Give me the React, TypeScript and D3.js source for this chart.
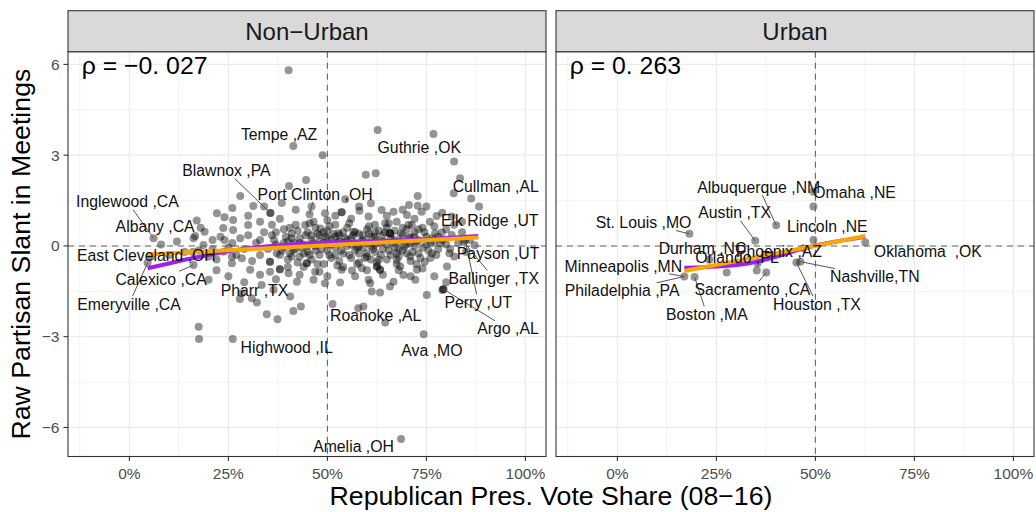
import React, { useEffect, useRef } from "react";
import * as d3 from "d3";

const panelNames = ["Non−Urban", "Urban"];
const rhoLabels = ["ρ = −0. 027", "ρ = 0. 263"];
const xTicks = [0, 0.25, 0.5, 0.75, 1];
const xTickLabels = ["0%", "25%", "50%", "75%", "100%"];
const xMinor = [-0.125, 0.125, 0.375, 0.625, 0.875];
const yTicks = [-6, -3, 0, 3, 6];
const yTickLabels = ["−6", "−3", "0", "3", "6"];
const yMinor = [-4.5, -1.5, 1.5, 4.5];
const xTitle = "Republican Pres. Vote Share (08−16)";
const yTitle = "Raw Partisan Slant in Meetings";

const nonUrbanPoints: [number, number][] = [
  [0.402,5.81],[0.414,3.30],[0.446,2.18],[0.403,1.98],[0.28,1.65],[0.313,1.32],[0.356,1.09],[0.356,1.09],
  [0.385,1.42],[0.221,1.08],[0.17,0.84],[0.262,0.86],[0.30,0.69],[0.33,0.80],[0.19,0.47],[0.237,0.59],
  [0.166,0.33],[0.061,0.25],
  [0.627,3.83],[0.768,3.70],[0.488,3.0],[0.82,2.79],[0.597,2.35],[0.622,2.40],[0.835,2.24],[0.819,1.74],
  [0.863,1.57],[0.883,1.30],[0.728,1.65],[0.61,1.41],[0.545,1.54],[0.706,1.35],[0.728,1.33],[0.536,1.11],
  [0.536,1.11],[0.455,1.05],[0.581,1.16],[0.637,1.19],[0.667,1.13],[0.701,1.02],[0.738,1.13],[0.759,0.80],
  [0.776,0.99],[0.814,0.97],[0.84,0.80],[0.465,0.80],[0.494,1.08],[0.604,0.97],[0.646,0.75],[0.675,0.80],
  [0.713,0.69],[0.658,0.42],[0.658,0.42],[0.789,0.44],[0.814,0.36],[0.566,0.47],[0.528,0.42],[0.482,0.58],
  [0.444,0.69],
  [0.175,-2.67],[0.176,-3.08],[0.261,-3.08],[0.347,-2.26],[0.374,-2.42],[0.414,-2.15],[0.433,-2.0],
  [0.279,-1.75],[0.309,-1.73],[0.322,-1.87],[0.284,-1.56],[0.305,-0.79],[0.334,-1.29],[0.355,-0.85],
  [0.38,-0.77],[0.38,-0.77],[0.402,-0.90],[0.423,-1.18],[0.364,-1.45],[0.406,-1.67],[0.20,-1.12],
  [0.162,-0.63],[0.259,-0.57],[0.284,-0.41],[0.162,0.25],[0.187,0.03],[0.238,-0.19],[0.259,-0.35],
  [0.33,0.2],[0.355,-0.52],[0.355,-0.52],[0.372,-0.24],[0.414,-0.13],[0.448,-0.57],[0.448,-0.57],[0.262,0.53],
  [0.686,-6.38],[0.743,-2.92],[0.751,-1.62],[0.793,-1.43],[0.793,-1.43],[0.79,-1.46],[0.646,-2.53],
  [0.591,-2.0],[0.578,-2.06],[0.513,-1.92],[0.802,-0.68],[0.808,-0.24],[0.764,-0.24],[0.722,-1.12],
  [0.726,-0.79],[0.608,-1.23],[0.612,-1.51],[0.633,-1.54],[0.667,-1.18],[0.692,-0.96],[0.658,-1.34],
  [0.633,-0.79],[0.633,-0.79],[0.587,-0.74],[0.562,-0.81],[0.536,-0.79],[0.469,-0.85],[0.494,-1.23],
  [0.465,-1.12],[0.532,-1.21],[0.684,-0.68],[0.675,-0.46],[0.709,-0.35],[0.746,-0.52],[0.772,0.42],
  [0.844,0.14],[0.848,0.2],[0.872,0.02],[0.785,0.09],[0.599,-0.24],[0.625,-0.68],[0.625,-0.68],[0.604,-1.12],
  [0.046,-0.56],[0.055,-0.35],[0.08,0.05],[0.1,-0.3],[0.12,0.15],[0.14,-0.2],[0.175,-0.15],[0.2,-0.35],
  [0.21,0.2],[0.23,0.3],
  [0.36,0.35],[0.37,0.05],[0.38,-0.3],[0.39,0.55],[0.40,0.15],[0.40,-0.45],[0.41,0.4],[0.42,-0.1],
  [0.42,0.7],[0.43,0.25],[0.43,-0.35],[0.44,0.05],[0.44,-0.7],[0.45,0.45],[0.45,-0.2],[0.46,0.2],
  [0.46,-0.45],[0.47,0.6],[0.47,0.0],[0.48,-0.3],[0.48,0.35],[0.49,0.1],[0.49,-0.6],[0.50,0.5],
  [0.50,-0.15],[0.50,0.25],[0.51,0.05],[0.51,-0.4],[0.52,0.7],[0.52,0.3],[0.52,-0.05],[0.53,-0.5],
  [0.53,0.15],[0.54,0.45],[0.54,-0.25],[0.55,0.0],[0.55,0.6],[0.56,-0.4],[0.56,0.25],[0.57,0.1],
  [0.57,-0.15],[0.58,0.4],[0.58,-0.55],[0.59,0.2],[0.59,-0.05],[0.60,0.55],[0.60,-0.35],[0.61,0.3],
  [0.61,0.0],[0.62,-0.2],[0.62,0.45],[0.63,0.1],[0.63,-0.45],[0.64,0.35],[0.64,-0.1],[0.65,0.6],
  [0.65,0.05],[0.66,-0.3],[0.66,0.25],[0.67,-0.05],[0.67,0.5],[0.68,0.15],[0.68,-0.35],[0.69,0.35],
  [0.69,-0.15],[0.70,0.55],[0.70,0.05],[0.71,-0.5],[0.71,0.25],[0.72,0.0],[0.72,0.45],[0.73,-0.25],
  [0.73,0.2],[0.74,0.6],[0.74,-0.05],[0.75,0.3],[0.76,-0.4],[0.76,0.1],[0.77,0.65],[0.78,-0.1],
  [0.78,0.3],[0.80,0.55],[0.80,0.05],[0.82,0.7],[0.82,-0.35],[0.84,0.45],[0.86,0.2],[0.35,-0.1],
  [0.34,0.45],[0.33,-0.3],[0.32,0.1],[0.31,-0.5],[0.30,0.35],[0.29,-0.1],[0.28,0.25],[0.27,-0.3],
  [0.26,0.1],[0.25,-0.05],[0.24,0.2],[0.22,-0.45],[0.21,-0.1],
  [0.38,0.9],[0.42,1.2],[0.46,1.3],[0.50,0.85],[0.52,1.0],[0.56,0.9],[0.58,1.3],[0.62,0.7],
  [0.65,1.0],[0.69,1.2],[0.72,0.9],[0.75,1.3],[0.79,1.1],[0.40,-0.7],[0.43,-0.95],[0.48,-0.85],
  [0.50,-1.0],[0.54,-0.7],[0.57,-1.0],[0.60,-0.8],[0.64,-0.95],[0.68,-0.8],[0.71,-1.0],[0.74,-0.75],
  [0.77,-1.0],[0.80,-1.2],[0.37,-1.1],[0.33,-0.95],[0.29,-1.2],[0.25,-1.0],[0.22,-0.8],[0.18,0.6],
  [0.16,-0.2],[0.30,1.0],[0.34,1.3],[0.36,0.7],[0.26,1.25],[0.24,0.95],
  [0.365,0.2],[0.385,-0.15],[0.395,0.3],[0.405,-0.25],[0.415,0.1],[0.425,0.5],[0.435,-0.05],[0.445,0.35],
  [0.455,-0.3],[0.465,0.1],[0.475,0.4],[0.485,-0.1],[0.495,0.3],[0.505,-0.3],[0.515,0.4],[0.525,0.1],
  [0.535,-0.15],[0.545,0.25],[0.555,-0.3],[0.565,0.35],[0.575,-0.05],[0.585,0.15],[0.595,-0.4],[0.605,0.4],
  [0.615,-0.1],[0.625,0.2],[0.635,-0.3],[0.645,0.45],[0.655,-0.15],[0.665,0.1],[0.675,-0.25],[0.685,0.4],
  [0.695,0.0],[0.705,0.3],[0.715,-0.2],[0.725,0.15],[0.735,-0.4],[0.745,0.45],[0.755,-0.15],[0.765,0.25],
  [0.775,-0.3],[0.79,0.2],[0.81,-0.1],[0.83,0.1],[0.85,-0.2],[0.405,0.6],[0.455,0.75],[0.505,0.65],
  [0.555,0.75],[0.605,0.65],[0.655,0.75],[0.705,0.7],[0.425,-0.55],[0.475,-0.6],[0.525,-0.65],[0.575,-0.6],
  [0.625,-0.55],[0.675,-0.6],[0.725,-0.6],
  [0.37,0.45],[0.39,-0.05],[0.41,0.25],[0.43,0.1],[0.44,-0.25],[0.46,0.35],[0.47,-0.15],[0.48,0.15],
  [0.49,0.45],[0.51,0.2],[0.52,-0.3],[0.53,0.35],[0.55,0.2],[0.56,0.05],[0.57,0.45],[0.58,-0.25],
  [0.59,0.35],[0.60,0.1],[0.61,-0.45],[0.62,0.3],[0.63,0.5],[0.64,0.15],[0.66,0.4],[0.67,0.2],
  [0.68,-0.1],[0.69,0.6],[0.70,-0.25],[0.72,0.3],[0.73,0.55],[0.75,0.05],[0.77,0.15],[0.39,0.1],
  [0.41,-0.35],[0.45,0.0],[0.50,0.05],[0.54,0.1],[0.58,0.0],[0.62,0.05],[0.65,-0.45],[0.71,0.1],
];

const urbanPoints: [number, number][] = [
  [0.182,0.40],[0.348,0.17],[0.401,0.68],[0.495,1.79],[0.495,1.30],[0.495,0.2],[0.47,-0.08],[0.626,0.11],
  [0.452,-0.55],[0.462,-0.52],[0.169,-1.01],[0.195,-1.03],[0.232,-0.46],[0.276,-0.88],[0.352,-0.81],
  [0.376,-0.88],[0.354,-0.57],
];

const nonUrbanLoess: [number, number][] = [
  [0.046,-0.74],[0.10,-0.58],[0.145,-0.44],[0.20,-0.30],[0.25,-0.18],[0.30,-0.08],[0.35,-0.01],[0.40,0.04],
  [0.45,0.08],[0.50,0.11],[0.55,0.13],[0.60,0.15],[0.65,0.17],[0.70,0.19],[0.75,0.22],[0.80,0.26],[0.881,0.33],
];
const nonUrbanLinear: [number, number][] = [[0.046,-0.28],[0.881,0.28]];
const urbanLoess: [number, number][] = [
  [0.169,-0.72],[0.25,-0.68],[0.33,-0.58],[0.40,-0.36],[0.47,-0.08],[0.55,0.14],[0.626,0.30],
];
const urbanLinear: [number, number][] = [[0.169,-0.83],[0.626,0.33]];

type Lab = { name: string; px: number; py: number; lx: number; ly: number };
const nonUrbanLabels: Lab[] = [
  { name: "Tempe ,AZ", px: 0.414, py: 3.30, lx: 0.378, ly: 3.70 },
  { name: "Guthrie ,OK", px: 0.768, py: 3.70, lx: 0.732, ly: 3.26 },
  { name: "Blawnox ,PA", px: 0.356, py: 1.09, lx: 0.245, ly: 2.49 },
  { name: "Port Clinton ,OH", px: 0.455, py: 1.05, lx: 0.469, ly: 1.72 },
  { name: "Cullman ,AL", px: 0.835, py: 2.24, lx: 0.925, ly: 1.98 },
  { name: "Elk Ridge ,UT", px: 0.883, py: 1.30, lx: 0.910, ly: 0.83 },
  { name: "Inglewood ,CA", px: 0.061, py: 0.25, lx: -0.005, ly: 1.46 },
  { name: "Albany ,CA", px: 0.166, py: 0.33, lx: 0.065, ly: 0.64 },
  { name: "East Cleveland ,OH", px: 0.055, py: -0.35, lx: 0.043, ly: -0.30 },
  { name: "Calexico ,CA", px: 0.162, py: -0.63, lx: 0.080, ly: -1.10 },
  { name: "Emeryville ,CA", px: 0.046, py: -0.56, lx: -0.001, ly: -1.92 },
  { name: "Pharr ,TX", px: 0.364, py: -1.45, lx: 0.316, ly: -1.48 },
  { name: "Highwood ,IL", px: 0.261, py: -3.08, lx: 0.397, ly: -3.35 },
  { name: "Roanoke ,AL", px: 0.646, py: -2.53, lx: 0.622, ly: -2.31 },
  { name: "Ava ,MO", px: 0.743, py: -2.92, lx: 0.764, ly: -3.46 },
  { name: "Amelia ,OH", px: 0.686, py: -6.38, lx: 0.566, ly: -6.61 },
  { name: "Payson ,UT", px: 0.872, py: 0.02, lx: 0.931, ly: -0.24 },
  { name: "Ballinger ,TX", px: 0.844, py: 0.14, lx: 0.920, ly: -1.07 },
  { name: "Perry ,UT", px: 0.848, py: 0.2, lx: 0.881, ly: -1.86 },
  { name: "Argo ,AL", px: 0.793, py: -1.43, lx: 0.956, ly: -2.74 },
];
const urbanLabels: Lab[] = [
  { name: "Albuquerque ,NM", px: 0.401, py: 0.68, lx: 0.357, ly: 1.94 },
  { name: "Omaha ,NE", px: 0.495, py: 1.79, lx: 0.599, ly: 1.77 },
  { name: "Austin ,TX", px: 0.348, py: 0.17, lx: 0.296, ly: 1.10 },
  { name: "Lincoln ,NE", px: 0.495, py: 0.2, lx: 0.530, ly: 0.64 },
  { name: "St. Louis ,MO", px: 0.182, py: 0.40, lx: 0.066, ly: 0.77 },
  { name: "Durham ,NC", px: 0.232, py: -0.46, lx: 0.215, ly: -0.08 },
  { name: "Orlando ,FL", px: 0.354, py: -0.57, lx: 0.302, ly: -0.37 },
  { name: "Phoenix ,AZ", px: 0.47, py: -0.08, lx: 0.408, ly: -0.19 },
  { name: "Oklahoma  ,OK", px: 0.626, py: 0.11, lx: 0.784, ly: -0.19 },
  { name: "Nashville,TN", px: 0.462, py: -0.52, lx: 0.650, ly: -1.01 },
  { name: "Houston ,TX", px: 0.452, py: -0.55, lx: 0.504, ly: -1.92 },
  { name: "Sacramento ,CA", px: 0.376, py: -0.88, lx: 0.341, ly: -1.43 },
  { name: "Boston ,MA", px: 0.195, py: -1.03, lx: 0.226, ly: -2.26 },
  { name: "Minneapolis ,MN", px: 0.169, py: -1.01, lx: 0.015, ly: -0.66 },
  { name: "Philadelphia ,PA", px: 0.169, py: -1.01, lx: 0.012, ly: -1.48 },
];

const FONT = "'Liberation Sans', Arial, Helvetica, sans-serif";

export default function App() {
  const ref = useRef<SVGSVGElement>(null);
  useEffect(() => {
    const svg = d3.select(ref.current);
    svg.selectAll("*").remove();
    const top = 51.7, bottom = 456.5, stripTop = 10.7;
    const panelRanges: [number, number][] = [[68, 546], [556, 1034]];
    const y = d3.scaleLinear().domain([-6.96, 6.42]).range([bottom, top]);
    const panels = [
      { points: nonUrbanPoints, loess: nonUrbanLoess, linear: nonUrbanLinear, labels: nonUrbanLabels },
      { points: urbanPoints, loess: urbanLoess, linear: urbanLinear, labels: urbanLabels },
    ];
    svg.append("rect").attr("width", 1036).attr("height", 512).attr("fill", "white");

    panelRanges.forEach(([x0, x1], i) => {
      const p = panels[i];
      const x = d3.scaleLinear().domain([-0.155, 1.052]).range([x0, x1]);
      const g = svg.append("g");
      xMinor.forEach((v) => g.append("line").attr("x1", x(v)).attr("x2", x(v)).attr("y1", top).attr("y2", bottom).attr("stroke", "#EBEBEB").attr("stroke-width", 0.6));
      yMinor.forEach((v) => g.append("line").attr("x1", x0).attr("x2", x1).attr("y1", y(v)).attr("y2", y(v)).attr("stroke", "#EBEBEB").attr("stroke-width", 0.6));
      xTicks.forEach((v) => g.append("line").attr("x1", x(v)).attr("x2", x(v)).attr("y1", top).attr("y2", bottom).attr("stroke", "#EBEBEB").attr("stroke-width", 1.2));
      yTicks.forEach((v) => g.append("line").attr("x1", x0).attr("x2", x1).attr("y1", y(v)).attr("y2", y(v)).attr("stroke", "#EBEBEB").attr("stroke-width", 1.2));
      g.append("g").selectAll("circle").data(p.points).join("circle")
        .attr("cx", (d) => x(d[0])).attr("cy", (d) => y(d[1])).attr("r", 4)
        .attr("fill", "black").attr("fill-opacity", 0.42);
      g.append("line").attr("x1", x0).attr("x2", x1).attr("y1", y(0)).attr("y2", y(0))
        .attr("stroke", "#666").attr("stroke-width", 1.1).attr("stroke-dasharray", "6,5");
      g.append("line").attr("x1", x(0.5)).attr("x2", x(0.5)).attr("y1", top).attr("y2", bottom)
        .attr("stroke", "#666").attr("stroke-width", 1.1).attr("stroke-dasharray", "6,5");
      const line = d3.line<[number, number]>().x((d) => x(d[0])).y((d) => y(d[1])).curve(d3.curveMonotoneX);
      g.append("path").attr("d", line(p.loess)).attr("fill", "none").attr("stroke", "#A020F0").attr("stroke-width", 4);
      g.append("path").attr("d", line(p.linear)).attr("fill", "none").attr("stroke", "#FFA500").attr("stroke-width", 4);
      const segG = g.append("g");
      const labG = g.append("g");
      p.labels.forEach((l) => {
        const cx = x(l.lx), cy = y(l.ly);
        const t = labG.append("text").attr("x", cx).attr("y", cy + 0.358 * 15.8)
          .attr("text-anchor", "middle").attr("font-family", FONT).attr("font-size", 15.8)
          .attr("fill", "#111").style("white-space", "pre").text(l.name);
        const bb = (t.node() as SVGTextElement).getBBox();
        const hw = bb.width / 2 + 1, hh = 15.8 * 0.5;
        const ppx = x(l.px), ppy = y(l.py);
        const dx = ppx - cx, dy = ppy - cy;
        if (Math.abs(dx) <= hw && Math.abs(dy) <= hh) return;
        const tx = dx !== 0 ? hw / Math.abs(dx) : Infinity;
        const ty = dy !== 0 ? hh / Math.abs(dy) : Infinity;
        const tt = Math.min(tx, ty);
        const sx = cx + dx * tt, sy = cy + dy * tt;
        const len = Math.hypot(ppx - sx, ppy - sy);
        if (len < 10) return;
        segG.append("line").attr("x1", sx).attr("y1", sy).attr("x2", ppx).attr("y2", ppy)
          .attr("stroke", "#555").attr("stroke-width", 1);
      });
      g.append("text").attr("x", x0 + 13.7).attr("y", 74.3).attr("font-family", FONT).attr("font-size", 24.8)
        .attr("fill", "black").text(rhoLabels[i]);
      g.append("rect").attr("x", x0).attr("y", top).attr("width", x1 - x0).attr("height", bottom - top)
        .attr("fill", "none").attr("stroke", "#333").attr("stroke-width", 1.1);
      g.append("rect").attr("x", x0).attr("y", stripTop).attr("width", x1 - x0).attr("height", top - stripTop)
        .attr("fill", "#D9D9D9").attr("stroke", "#333").attr("stroke-width", 1.1);
      g.append("text").attr("x", (x0 + x1) / 2).attr("y", (stripTop + top) / 2 + 0.358 * 24)
        .attr("text-anchor", "middle").attr("font-family", FONT).attr("font-size", 24).attr("fill", "#1A1A1A")
        .text(panelNames[i]);
      xTicks.forEach((v, k) => {
        g.append("line").attr("x1", x(v)).attr("x2", x(v)).attr("y1", bottom).attr("y2", bottom + 4.5)
          .attr("stroke", "#333").attr("stroke-width", 1.1);
        g.append("text").attr("x", x(v)).attr("y", 478.5).attr("text-anchor", "middle")
          .attr("font-family", FONT).attr("font-size", 15.5).attr("fill", "#4D4D4D").text(xTickLabels[k]);
      });
      if (i === 0) {
        yTicks.forEach((v, k) => {
          g.append("line").attr("x1", x0 - 4.5).attr("x2", x0).attr("y1", y(v)).attr("y2", y(v))
            .attr("stroke", "#333").attr("stroke-width", 1.1);
          g.append("text").attr("x", x0 - 8.5).attr("y", y(v) + 0.358 * 15.5).attr("text-anchor", "end")
            .attr("font-family", FONT).attr("font-size", 15.5).attr("fill", "#4D4D4D").text(yTickLabels[k]);
        });
      }
    });
    svg.append("text").attr("x", 551).attr("y", 505).attr("text-anchor", "middle")
      .attr("font-family", FONT).attr("font-size", 26.7).attr("fill", "black").text(xTitle);
    svg.append("text").attr("transform", `translate(30,${(top + bottom) / 2}) rotate(-90)`)
      .attr("text-anchor", "middle").attr("font-family", FONT).attr("font-size", 26.7).attr("fill", "black").text(yTitle);
  }, []);
  return (
    <svg ref={ref} width={1036} height={512} style={{ position: "absolute", left: 0, top: 0, display: "block" }} />
  );
}
